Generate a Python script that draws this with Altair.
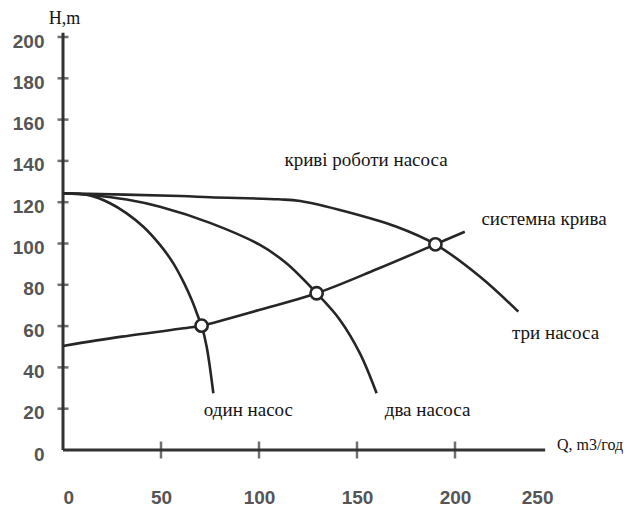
import altair as alt
import pandas as pd

# ---- data ----
q_one = [0, 13.8, 24, 32.5, 41, 49.5, 56.3, 61.4, 65.7, 69, 70.7, 73.3, 76.7]
h_one = [124.3, 123.3, 119.5, 114.6, 108.1, 99.3, 90.4, 81.5, 72.6, 64.4, 60.2, 50, 27.5]

q_two = [0, 15, 32.5, 49.5, 75, 100.5, 114, 129.4, 141.3, 151.5, 160]
h_two = [124.3, 123.4, 121.3, 117.8, 110, 99.3, 90.4, 75.9, 63, 46.8, 27.5]

q_three = [0, 60, 75, 110, 121, 144.7, 170.2, 190, 212.8, 232.3]
h_three = [124.3, 123, 122.4, 121.4, 120.6, 115.4, 108.1, 99.6, 83.9, 67]

q_sys = [0, 30, 67.3, 70.7, 100, 129.4, 160, 190, 205]
h_sys = [50.4, 54.9, 59.7, 60.2, 67.8, 75.9, 87.5, 99.6, 105.7]

q_op = [70.7, 129.4, 190]
h_op = [60.2, 75.9, 99.6]

y_ticks = [20, 40, 60, 80, 100, 120, 140, 160, 180, 200]
x_ticks = [50, 100, 150, 200]
y_labels = [0, 20, 40, 60, 80, 100, 120, 140, 160, 180, 200]
x_labels = [0, 50, 100, 150, 200, 250]

ann_text = ["криві роботи насоса", "системна крива", "три насоса", "два насоса", "один насос"]
ann_q = [154.6, 245.4, 251.3, 186, 94.6]
ann_h = [140.4, 111.9, 56.7, 19.4, 19.4]

title_text = ["Q, m3/год", "H,m"]
title_q = [252, -7.3]
title_h = [2.4, 208.5]
title_size = [16, 18]

# ---- tables ----
curves = pd.concat([
    pd.DataFrame({"Q": q_one, "H": h_one, "s": "one"}),
    pd.DataFrame({"Q": q_two, "H": h_two, "s": "two"}),
    pd.DataFrame({"Q": q_three, "H": h_three, "s": "three"}),
    pd.DataFrame({"Q": q_sys, "H": h_sys, "s": "sys"}),
], ignore_index=True)
ops = pd.DataFrame({"Q": q_op, "H": h_op})
ann = pd.DataFrame({"t": ann_text, "Q": ann_q, "H": ann_h})
tt = pd.DataFrame({"t": title_text, "Q": title_q, "H": title_h, "fs": title_size})
yt = pd.DataFrame({"Q": [0] * len(y_ticks), "H": y_ticks})
xt = pd.DataFrame({"Q": x_ticks, "H": [0] * len(x_ticks)})
axes_df = pd.DataFrame({"Q": [0, 0], "Q2": [246, 0], "H": [0, 0], "H2": [0, 202]})

LINE = "#262626"
TEXT = "#141414"
SERIF = "Liberation Serif, Times New Roman, serif"
xscale = alt.Scale(domain=[0, 250], nice=False, zero=False)
yscale = alt.Scale(domain=[0, 200], nice=False, zero=False)

label_font = "Liberation Sans Narrow, Liberation Sans, Arial"
xaxis = alt.Axis(values=x_labels, domain=False, ticks=False, tickSize=0, grid=False,
                 labelPadding=38, labelFont=label_font, labelFontSize=19,
                 labelFontWeight="bold", labelColor="#555555", title=None,
                 labelBaseline="top", labelAngle=0)
yaxis = alt.Axis(values=y_labels, domain=False, ticks=False, tickSize=0, grid=False,
                 labelPadding=19, labelFont=label_font, labelFontSize=19,
                 labelFontWeight="bold", labelColor="#555555", title=None,
                 labelOffset=4)

base_axes = alt.Chart(axes_df).mark_rule(color="#333333", strokeWidth=3).encode(
    x=alt.X("Q:Q", scale=xscale, axis=xaxis),
    x2="Q2",
    y=alt.Y("H:Q", scale=yscale, axis=yaxis),
    y2="H2",
)

ytick_layer = alt.Chart(yt).mark_tick(orient="horizontal", size=11, thickness=2.5,
                                      color="#333333").encode(
    x=alt.X("Q:Q", scale=xscale), y=alt.Y("H:Q", scale=yscale))
xtick_layer = alt.Chart(xt).mark_tick(orient="vertical", size=17, thickness=2.5,
                                      color="#333333").encode(
    x=alt.X("Q:Q", scale=xscale), y=alt.Y("H:Q", scale=yscale))

lines = alt.Chart(curves).mark_line(color=LINE, strokeWidth=2.6,
                                    interpolate="catmull-rom").encode(
    x=alt.X("Q:Q", scale=xscale),
    y=alt.Y("H:Q", scale=yscale),
    detail="s:N",
)

points = alt.Chart(ops).mark_point(shape="circle", filled=False, fill="white",
                                   fillOpacity=1, opacity=1, size=150,
                                   stroke=LINE, strokeWidth=2.6).encode(
    x=alt.X("Q:Q", scale=xscale), y=alt.Y("H:Q", scale=yscale))

labels = alt.Chart(ann).mark_text(font=SERIF, fontSize=19, color=TEXT,
                                  align="center", baseline="middle").encode(
    x=alt.X("Q:Q", scale=xscale), y=alt.Y("H:Q", scale=yscale), text="t:N")

titles = alt.Chart(tt).mark_text(font=SERIF, color=TEXT,
                                 align="left", baseline="middle").encode(
    x=alt.X("Q:Q", scale=xscale), y=alt.Y("H:Q", scale=yscale), text="t:N",
    size=alt.Size("fs:Q", scale=None, legend=None))

chart = alt.layer(base_axes, ytick_layer, xtick_layer, lines, points, labels, titles).properties(
    width=490, height=413,
    autosize=alt.AutoSizeParams(type="none"),
    padding={"left": 63, "top": 37, "right": 74, "bottom": 58},
    background="white",
).configure_view(stroke=None)

chart.save("out.html", embed_options={"renderer": "svg", "actions": False})
